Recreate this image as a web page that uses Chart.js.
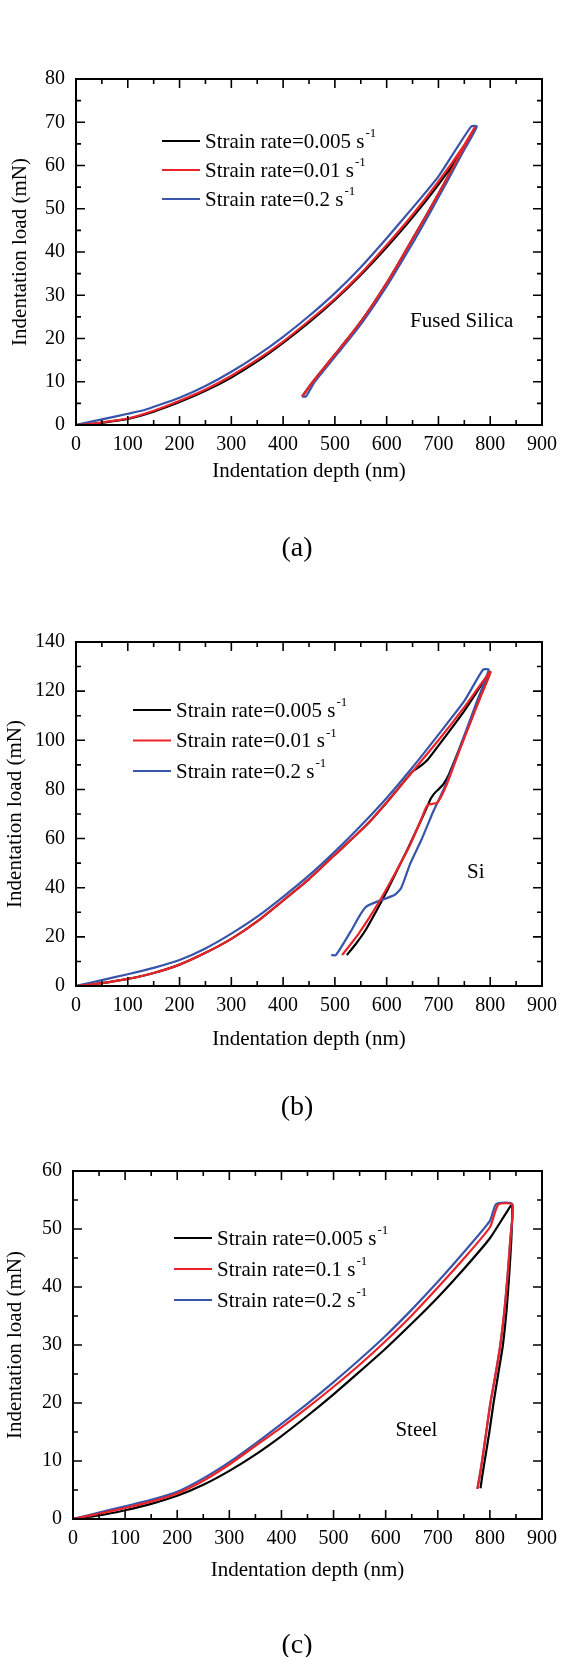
<!DOCTYPE html>
<html>
<head>
<meta charset="utf-8">
<script src="https://cdn.jsdelivr.net/npm/chart.js@4.4.1/dist/chart.umd.min.js"></script>
<style>
  body { margin: 0; background: #fff; }
  #page { position: relative; width: 565px; height: 1657px; background: #fff;
          font-family: "Liberation Serif", "Times New Roman", serif; color: #000; }
  canvas { position: absolute; left: 0; }
  .tag { position: absolute; width: 100px; text-align: center; font-size: 28px; line-height: 28px; }
</style>
</head>
<body>
<div id="page">
  <canvas id="chartA" width="565" height="560" style="top:0px"></canvas>
  <canvas id="chartB" width="565" height="560" style="top:560px"></canvas>
  <canvas id="chartC" width="565" height="537" style="top:1120px"></canvas>
  <div class="tag" style="left:247px; top:533px">(a)</div>
  <div class="tag" style="left:247px; top:1092px">(b)</div>
  <div class="tag" style="left:247px; top:1630px">(c)</div>
</div>
<script>
// tick labels
const depthTicks = [0, 100, 200, 300, 400, 500, 600, 700, 800, 900];
const loadTicksA = [0, 10, 20, 30, 40, 50, 60, 70, 80];
const loadTicksB = [0, 20, 40, 60, 80, 100, 120, 140];
const loadTicksC = [0, 10, 20, 30, 40, 50, 60];

// series names
const ratesA = ['0.005', '0.01', '0.2'];
const ratesB = ['0.005', '0.01', '0.2'];
const ratesC = ['0.005', '0.1', '0.2'];

// (a) Fused Silica  -- depth (nm) / load (mN)
const fsDepth1 = [0, 25, 50, 100, 150, 200, 250, 300, 350, 400, 450, 500, 550, 600, 650, 700, 750, 772,
                  740, 710, 680, 649, 620, 600, 575, 550, 525, 500, 475, 455, 437];
const fsLoad1  = [0, 0.2, 0.5, 1.4, 3.1, 5.3, 7.9, 11.0, 14.7, 19.0, 23.7, 28.9, 34.7, 41.1, 48.0, 55.6, 64.0, 68.7,
                  62.2, 55.6, 49.2, 42.8, 36.8, 32.8, 28.2, 23.9, 20.0, 16.3, 12.6, 9.6, 6.6];
const fsDepth2 = [0, 25, 50, 100, 150, 200, 250, 300, 350, 400, 450, 500, 550, 600, 650, 700, 750, 770,
                  740, 710, 680, 649, 620, 600, 575, 550, 525, 500, 475, 455, 437];
const fsLoad2  = [0, 0.2, 0.6, 1.5, 3.3, 5.6, 8.2, 11.4, 15.1, 19.3, 24.1, 29.2, 35.0, 41.6, 48.6, 56.3, 64.8, 68.8,
                  62.2, 55.6, 49.2, 42.8, 36.8, 32.8, 28.2, 23.9, 20.0, 16.3, 12.6, 9.6, 6.6];
const fsDepth3 = [0, 50, 100, 130, 150, 200, 250, 300, 350, 400, 450, 500, 550, 600, 650, 700, 763, 774,
                  745, 715, 685, 655, 625, 605, 580, 555, 530, 505, 480, 460, 444, 436];
const fsLoad3  = [0, 1.3, 2.6, 3.4, 4.2, 6.3, 9.0, 12.3, 16.1, 20.4, 25.2, 30.5, 36.5, 43.2, 50.2, 57.5, 69.0, 69.0,
                  62.6, 55.9, 49.4, 43.0, 37.0, 33.0, 28.4, 24.1, 20.2, 16.5, 12.8, 9.8, 6.6, 6.6];

// (b) Si
const siDepth1 = [0, 50, 100, 150, 200, 250, 300, 350, 400, 450, 500, 560, 600, 650, 665, 680, 700, 750, 800,
                  780, 760, 740, 720, 710, 700, 693, 685, 679, 660, 640, 620, 600, 580, 560, 540, 523];
const siLoad1  = [0, 1.2, 2.9, 5.3, 8.7, 13.5, 19.2, 26.3, 34.8, 43.5, 53.4, 65.3, 74.7, 87.3, 89.5, 92.3, 97.8, 112.0, 127.8,
                  117.3, 106.8, 96.3, 86.0, 82.3, 80.0, 78.6, 76.2, 73.3, 64.5, 55.5, 47.0, 38.5, 30.5, 23.0, 17.0, 12.6];
const siDepth2 = [0, 50, 100, 150, 200, 250, 300, 350, 400, 450, 500, 560, 600, 650, 700, 750, 800,
                  780, 760, 740, 716, 698, 679, 669, 645, 614, 583, 545, 514];
const siLoad2  = [0, 1.2, 2.9, 5.3, 8.7, 13.5, 19.2, 26.3, 34.8, 43.5, 53.4, 65.3, 74.7, 87.3, 100.0, 113.5, 127.8,
                  117.0, 106.3, 95.5, 82.0, 74.7, 73.6, 69.0, 57.3, 45.0, 33.4, 21.0, 12.6];
const siDepth3 = [0, 50, 100, 150, 200, 250, 300, 350, 400, 450, 500, 550, 600, 650, 700, 750, 786, 797,
                  775, 750, 717, 690, 668, 645, 628, 615, 560, 530, 502, 493];
const siLoad3  = [0, 2.4, 4.8, 7.4, 10.6, 15.3, 21.3, 28.2, 36.3, 45.0, 54.7, 65.2, 76.5, 89.0, 102.3, 116.0, 128.7, 128.7,
                  116.2, 102.0, 83.4, 71.0, 59.9, 49.5, 39.9, 37.0, 32.2, 22.0, 12.6, 12.6];

// (c) Steel
const stDepth1 = [0, 50, 100, 150, 200, 250, 300, 350, 400, 450, 500, 550, 600, 650, 700, 750, 800, 840,
                  843, 841, 837, 832, 825, 816, 807, 799, 790, 785, 782];
const stLoad1  = [0, 0.6, 1.5, 2.6, 4.0, 5.9, 8.3, 11.1, 14.3, 17.8, 21.5, 25.4, 29.4, 33.7, 38.2, 43.1, 48.4, 54.0,
                  54.0, 48.0, 42.0, 36.0, 30.0, 25.0, 20.0, 15.0, 10.0, 7.2, 5.3];
const stDepth2 = [0, 50, 100, 150, 200, 250, 300, 350, 400, 450, 500, 550, 600, 650, 700, 750, 800, 816, 843,
                  839, 834, 828, 820, 811, 801, 793, 785, 780, 776];
const stLoad2  = [0, 0.9, 1.9, 3.0, 4.4, 6.6, 9.4, 12.6, 15.8, 19.2, 22.8, 26.6, 30.7, 35.1, 39.9, 44.9, 50.3, 54.2, 54.2,
                  48.0, 42.0, 36.0, 30.0, 25.0, 20.0, 15.0, 10.0, 7.2, 5.2];
const stDepth3 = [0, 50, 100, 150, 200, 250, 300, 350, 400, 450, 500, 550, 600, 650, 700, 750, 800, 812, 843,
                  839, 834, 828, 820, 811, 801, 793, 785, 780, 776];
const stLoad3  = [0, 1.1, 2.2, 3.3, 4.7, 7.0, 9.8, 13.0, 16.4, 19.9, 23.6, 27.5, 31.6, 36.1, 40.9, 46.0, 51.4, 54.3, 54.3,
                  48.0, 42.0, 36.0, 30.0, 25.0, 20.0, 15.0, 10.0, 7.2, 5.2];

const serif = '"Liberation Serif", "Times New Roman", serif';
const colors = ['#000000', 'rgb(235,35,40)', 'rgb(55,85,170)'];
const drawOrder = [2, 0, 1];

function pts(xs, ys) {
  return xs.map((v, i) => ({x: v, y: ys[i]}));
}

// box + inward ticks on all four sides
const frame = {
  id: 'frame',
  afterDatasetsDraw(chart) {
    const o = chart.options.plugins.frame;
    const {ctx, chartArea: a, scales: {x, y}} = chart;
    ctx.save();
    ctx.strokeStyle = '#000';
    ctx.lineWidth = 1.6;
    ctx.beginPath();
    for (let v = x.min + o.xMinor; v < x.max; v += o.xMinor) {
      const px = x.getPixelForValue(v);
      const len = (v % o.xMajor === 0) ? 9 : 5;
      ctx.moveTo(px, a.bottom); ctx.lineTo(px, a.bottom - len);
      ctx.moveTo(px, a.top); ctx.lineTo(px, a.top + len);
    }
    for (let v = y.min + o.yMinor; v < y.max; v += o.yMinor) {
      const py = y.getPixelForValue(v);
      const len = (v % o.yMajor === 0) ? 9 : 5;
      ctx.moveTo(a.left, py); ctx.lineTo(a.left + len, py);
      ctx.moveTo(a.right, py); ctx.lineTo(a.right - len, py);
    }
    ctx.stroke();
    ctx.lineWidth = 2;
    ctx.strokeRect(a.left, a.top, a.right - a.left, a.bottom - a.top);
    ctx.restore();
  }
};

// legend inside the plot, with superscript unit
const keyBox = {
  id: 'keyBox',
  afterDraw(chart) {
    const o = chart.options.plugins.keyBox;
    const {ctx, chartArea: a} = chart;
    ctx.save();
    chart.data.datasets.forEach((ds, i) => {
      const yy = a.top + o.dy + i * o.gap;
      const x0 = a.left + o.dx;
      ctx.strokeStyle = ds.borderColor;
      ctx.lineWidth = 2;
      ctx.beginPath();
      ctx.moveTo(x0, yy); ctx.lineTo(x0 + 38, yy);
      ctx.stroke();
      ctx.fillStyle = '#000';
      ctx.textBaseline = 'middle';
      ctx.font = '21px ' + serif;
      ctx.fillText(ds.label, x0 + 43, yy + 1);
      const w = ctx.measureText(ds.label).width;
      ctx.font = '13px ' + serif;
      ctx.fillText('-1', x0 + 44 + w, yy - 7);
    });
    ctx.restore();
  }
};

// material name
const note = {
  id: 'note',
  afterDraw(chart) {
    const o = chart.options.plugins.note;
    const {ctx, scales: {x, y}} = chart;
    ctx.save();
    ctx.fillStyle = '#000';
    ctx.font = '21px ' + serif;
    ctx.textAlign = 'center';
    ctx.textBaseline = 'middle';
    ctx.fillText(o.text, x.getPixelForValue(o.x), y.getPixelForValue(o.y));
    ctx.restore();
  }
};

function makeChart(id, cfg) {
  const series = [
    [cfg.d1, cfg.l1], [cfg.d2, cfg.l2], [cfg.d3, cfg.l3]
  ];
  return new Chart(document.getElementById(id).getContext('2d'), {
    type: 'scatter',
    data: {
      datasets: series.map((s, i) => ({
        label: 'Strain rate=' + cfg.rates[i] + ' s',
        data: pts(s[0], s[1]),
        showLine: true,
        borderColor: colors[i],
        backgroundColor: colors[i],
        borderWidth: 2.2,
        pointRadius: 0,
        tension: 0.2,
        order: drawOrder[i]
      }))
    },
    options: {
      responsive: false,
      animation: false,
      devicePixelRatio: 1,
      layout: { autoPadding: false, padding: { top: cfg.top, right: cfg.right, left: 0, bottom: 0 } },
      scales: {
        x: {
          type: 'linear', position: 'bottom',
          min: depthTicks[0], max: depthTicks[depthTicks.length - 1],
          afterBuildTicks: s => { s.ticks = depthTicks.map(v => ({value: v})); },
          afterFit: s => { s.height = cfg.h - cfg.bottom; },
          grid: { display: false, drawTicks: false },
          border: { display: false },
          ticks: { color: '#000', padding: 8, font: { family: serif, size: 20 }, maxRotation: 0, autoSkip: false },
          title: { display: true, text: 'Indentation depth (nm)', color: '#000',
                   font: { family: serif, size: 21 }, padding: { top: 0, bottom: cfg.xTitlePad } }
        },
        y: {
          type: 'linear', position: 'left',
          min: cfg.yTicks[0], max: cfg.yTicks[cfg.yTicks.length - 1],
          afterBuildTicks: s => { s.ticks = cfg.yTicks.map(v => ({value: v})); },
          afterFit: s => { s.width = cfg.left; },
          grid: { display: false, drawTicks: false },
          border: { display: false },
          ticks: { color: '#000', padding: 11, font: { family: serif, size: 20 }, autoSkip: false },
          title: { display: true, text: 'Indentation load (mN)', color: '#000',
                   font: { family: serif, size: 21 }, padding: { top: cfg.yTitlePad, bottom: 0 } }
        }
      },
      plugins: {
        legend: { display: false },
        tooltip: { enabled: false },
        frame: { xMinor: 50, xMajor: 100, yMinor: cfg.yMinor, yMajor: cfg.yMajor },
        keyBox: cfg.key,
        note: cfg.note
      }
    },
    plugins: [frame, keyBox, note]
  });
}

makeChart('chartA', {
  h: 560, top: 79, bottom: 425, left: 76, right: 19, xTitlePad: 76, yTitlePad: 8,
  yTicks: loadTicksA, yMinor: 5, yMajor: 10, rates: ratesA,
  d1: fsDepth1, l1: fsLoad1, d2: fsDepth2, l2: fsLoad2, d3: fsDepth3, l3: fsLoad3,
  key: { dx: 86, dy: 62, gap: 29 },
  note: { text: 'Fused Silica', x: 745, y: 24 }
});

makeChart('chartB', {
  h: 560, top: 82, bottom: 426, left: 76, right: 19, xTitlePad: 68, yTitlePad: 3,
  yTicks: loadTicksB, yMinor: 10, yMajor: 20, rates: ratesB,
  d1: siDepth1, l1: siLoad1, d2: siDepth2, l2: siLoad2, d3: siDepth3, l3: siLoad3,
  key: { dx: 57, dy: 68, gap: 30.5 },
  note: { text: 'Si', x: 772, y: 46.4 }
});

makeChart('chartC', {
  h: 537, top: 51, bottom: 399, left: 73, right: 17, xTitlePad: 74, yTitlePad: 3,
  yTicks: loadTicksC, yMinor: 5, yMajor: 10, rates: ratesC,
  d1: stDepth1, l1: stLoad1, d2: stDepth2, l2: stLoad2, d3: stDepth3, l3: stLoad3,
  key: { dx: 101, dy: 67, gap: 31 },
  note: { text: 'Steel', x: 659, y: 15.2 }
});
</script>
</body>
</html>
